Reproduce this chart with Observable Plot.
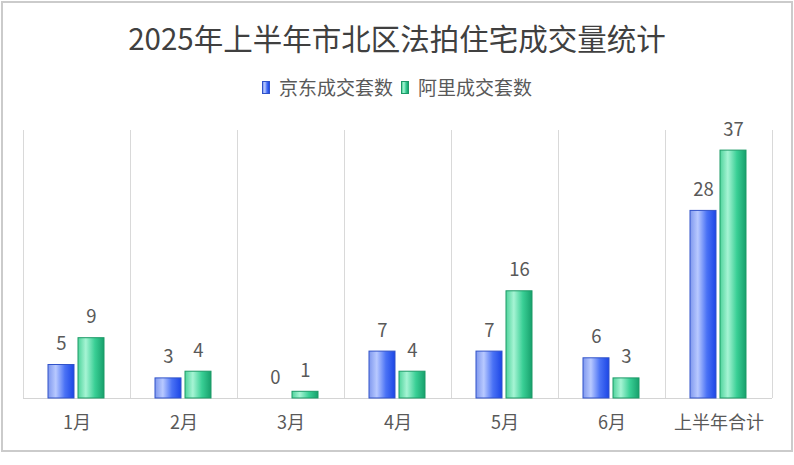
<!DOCTYPE html>
<html><head><meta charset="utf-8">
<script src="https://cdn.jsdelivr.net/npm/d3@7"></script>
<script src="https://cdn.jsdelivr.net/npm/@observablehq/plot@0.6"></script>
<style>
body{margin:0;background:#fff;font-family:"Noto Sans CJK SC","Noto Sans",sans-serif;}
#wrap{position:relative;width:794px;height:465px;overflow:hidden;background:#fff}
#frame{position:absolute;left:1px;top:1px;width:788px;height:447px;border:2px solid #cbcbcb;}
#title{position:absolute;top:17px;left:0;width:794px;text-align:center;font-size:29.5px;color:#404040;line-height:40px;white-space:nowrap}
#legend{position:absolute;top:74px;left:0;width:794px;display:flex;justify-content:center;align-items:center;font-size:19px;color:#595959;line-height:26px}
.sw{display:inline-block;width:8px;height:13px;margin-right:9px;box-sizing:border-box}
.item{display:flex;align-items:center;margin:0 4px}
#chart{position:absolute;top:110px;left:0}
</style></head>
<body><div id="wrap"><div id="frame"></div>
<div id="title"></div>
<div id="legend"></div>
<div id="chart"></div></div>
<script>
const titleText = "2025年上半年市北区法拍住宅成交量统计";
const categories = ["1月","2月","3月","4月","5月","6月","上半年合计"];
const seriesNames = ["京东成交套数","阿里成交套数"];
const jdValues = [5,3,0,7,7,6,28];
const aliValues = [9,4,1,4,16,3,37];

const jdRows = categories.map((c,i)=>({category:c, series:seriesNames[0], value:jdValues[i]}));
const aliRows = categories.map((c,i)=>({category:c, series:seriesNames[1], value:aliValues[i]}));

document.getElementById("title").textContent = titleText;
const legendCss = [
  "linear-gradient(to right,#7f98ee,#b8c9ff 30%,#4a72f5 65%,#1c46e6);border:1px solid #2f52c8",
  "linear-gradient(to right,#4fd49c,#a6f4d4 30%,#39cf95 65%,#17a06c);border:1px solid #1c9967"
];
document.getElementById("legend").innerHTML = seriesNames.map((s,i)=>
  `<span class="item"><span class="sw" style="background:${legendCss[i].split(';')[0]};${legendCss[i].split(';')[1]}"></span>${s}</span>`).join("");

const W = 794, H = 340, ML = 23, MR = 22;
const step = (W - ML - MR) / categories.length;
const half = step / 2;

const svg = Plot.plot({
  width: W, height: H,
  marginLeft: ML, marginRight: MR, marginTop: 20, marginBottom: 52,
  style: {fontFamily: '"Noto Sans CJK SC","Noto Sans",sans-serif', color: "#595959", background: "transparent"},
  x: {domain: categories, padding: 0},
  y: {domain: [0, 40], axis: null},
  marks: [
    Plot.ruleX(categories, {x: d => d, dx: -half, stroke: "#d9d9d9", strokeWidth: 1}),
    Plot.ruleX([categories[categories.length-1]], {x: d => d, dx: half, stroke: "#d9d9d9", strokeWidth: 1}),
    Plot.ruleY([0], {stroke: "#d4d4d4", strokeWidth: 1}),
    Plot.barY(jdRows, {x: "category", y: "value", insetLeft: 25, insetRight: step - 51, fill: "url(#gBlue)", stroke: "#3153c9", strokeWidth: 1}),
    Plot.barY(aliRows, {x: "category", y: "value", insetLeft: 55, insetRight: step - 81, fill: "url(#gGreen)", stroke: "#1c9a67", strokeWidth: 1}),
    Plot.text(jdRows, {x: "category", y: "value", text: d => String(d.value), dx: 38 - half, dy: -15, lineAnchor: "bottom", fontSize: 18.5, fill: "#595959"}),
    Plot.text(aliRows, {x: "category", y: "value", text: d => String(d.value), dx: 68 - half, dy: -15, lineAnchor: "bottom", fontSize: 18.5, fill: "#595959"}),
    Plot.axisX({tickSize: 0, tickPadding: 18, fontSize: 18, label: null, fill: "#595959"})
  ]
});
d3.select(svg).insert("defs", ":first-child").html(`
<linearGradient id="gBlue" x1="0" x2="1" y1="0" y2="0">
  <stop offset="0" stop-color="#7f98ee"/><stop offset="0.3" stop-color="#b8c9ff"/>
  <stop offset="0.65" stop-color="#4a72f5"/><stop offset="1" stop-color="#1c46e6"/>
</linearGradient>
<linearGradient id="gGreen" x1="0" x2="1" y1="0" y2="0">
  <stop offset="0" stop-color="#4fd49c"/><stop offset="0.3" stop-color="#a6f4d4"/>
  <stop offset="0.65" stop-color="#39cf95"/><stop offset="1" stop-color="#17a06c"/>
</linearGradient>`);
document.getElementById("chart").appendChild(svg);
</script></body></html>
